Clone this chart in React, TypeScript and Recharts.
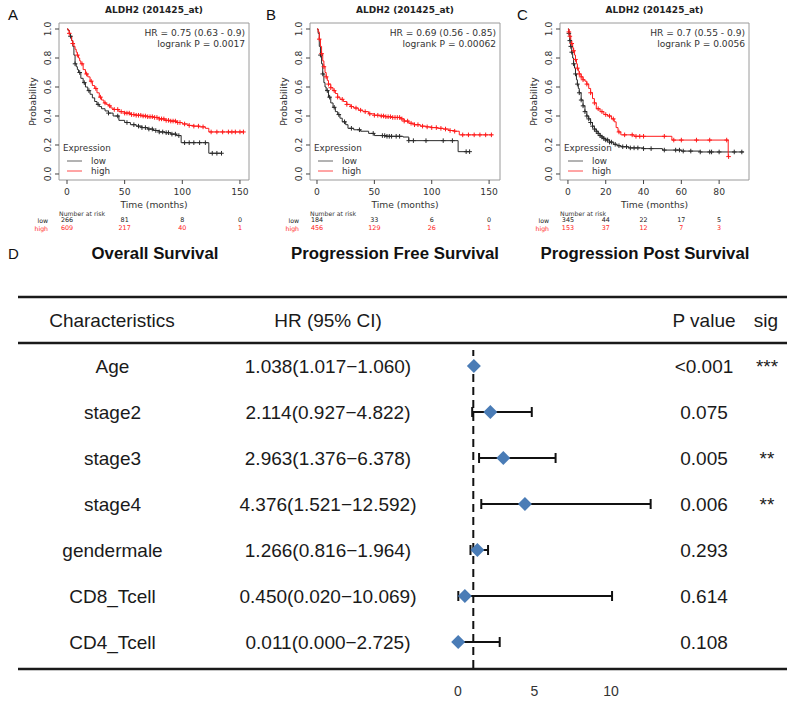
import React from 'react';
import {
  ComposedChart, ScatterChart, Line, Scatter, XAxis, YAxis,
  ReferenceArea, ReferenceLine, ErrorBar,
} from 'recharts';

// ---------- Kaplan-Meier data ----------
// A: Overall Survival
const osHighT = [0,1,2,3,4,5,6,7,8,9,10,11,12,14,16,18,20,22,24,26,28,30,32,34,36,38,40,45,50,55,60,65,70,75,80,85,90,95,100,105,110,115,120,123,153];
const osHighS = [1,0.99,0.97,0.95,0.92,0.9,0.88,0.86,0.84,0.82,0.8,0.78,0.76,0.72,0.69,0.67,0.64,0.61,0.59,0.56,0.53,0.51,0.49,0.48,0.47,0.455,0.445,0.43,0.42,0.41,0.405,0.4,0.395,0.39,0.38,0.37,0.365,0.355,0.345,0.335,0.33,0.325,0.315,0.29,0.29];
const osLowT = [0,1,2,3,4,5,6,7,8,9,10,12,14,16,18,20,22,24,26,28,30,33,36,40,45,50,55,60,65,70,75,80,85,90,95,99,123,134];
const osLowS = [1,0.99,0.97,0.95,0.92,0.88,0.82,0.76,0.74,0.72,0.7,0.66,0.63,0.6,0.575,0.55,0.525,0.5,0.48,0.465,0.45,0.435,0.42,0.4,0.37,0.355,0.34,0.33,0.32,0.31,0.3,0.29,0.285,0.275,0.265,0.216,0.143,0.143];
const osHighCens = [2,5,9,13,17,21,25,29,33,37,41,44,47,50,52,54,56,58,60,62,64,66,68,70,72,74,76,78,80,82,84,86,88,90,92,94,96,98,102,106,110,114,118,125,130,135,140,143,146,150,153];
const osLowCens = [3,7,11,15,19,27,36,44,52,58,62,65,68,71,74,77,80,83,86,88,91,94,97,102,106,110,115,120,126,130,134];
const osRiskLow = ['266','81','8','0'];
const osRiskHigh = ['609','217','40','1'];

// B: Progression Free Survival
const pfsHighT = [0,1,2,3,4,5,6,7,8,9,10,12,14,16,18,20,23,26,29,32,36,40,45,50,55,60,65,70,73,76,80,85,90,95,100,105,110,115,120,124,153];
const pfsHighS = [1,0.98,0.93,0.88,0.83,0.78,0.74,0.7,0.67,0.645,0.62,0.595,0.575,0.555,0.53,0.515,0.5,0.48,0.465,0.455,0.44,0.43,0.415,0.405,0.4,0.395,0.39,0.39,0.38,0.365,0.35,0.34,0.33,0.325,0.32,0.315,0.31,0.3,0.295,0.27,0.27];
const pfsLowT = [0,1,2,3,4,5,6,7,8,10,12,14,16,18,20,22,25,27,32,38,45,50,60,75,80,123,133];
const pfsLowS = [1,0.97,0.88,0.82,0.76,0.69,0.63,0.6,0.575,0.53,0.49,0.46,0.43,0.41,0.385,0.36,0.34,0.315,0.305,0.295,0.28,0.265,0.26,0.255,0.23,0.154,0.154];
const pfsHighCens = [2,4,6,8,10,12,15,18,22,26,30,34,38,42,46,50,53,56,58,60,62,64,66,68,70,72,74,76,79,82,85,88,92,96,100,104,108,112,116,120,127,132,137,142,147,152];
const pfsLowCens = [3,5,9,11,15,19,24,30,37,49,57,59,61,63,65,69,72,80,84,95,110,118,130,133];
const pfsRiskLow = ['184','33','6','0'];
const pfsRiskHigh = ['456','129','26','1'];

// C: Progression Post Survival
const ppsHighT = [0,0.5,1,1.5,2,2.5,3,3.5,4,4.5,5,5.5,6,7,8,9,10,11,12,13,14,15,17,19,21,23,24.5,25.5,26.5,28,35,55,84.8];
const ppsHighS = [1,0.98,0.95,0.92,0.9,0.87,0.85,0.82,0.79,0.76,0.73,0.71,0.69,0.67,0.65,0.64,0.62,0.59,0.56,0.52,0.49,0.45,0.43,0.41,0.4,0.38,0.36,0.32,0.29,0.27,0.26,0.234,0.12];
const ppsLowT = [0,0.5,1,1.5,2,2.5,3,3.5,4,4.5,5,5.5,6,7,8,9,10,11,12,13,14,15,16,17,18,19,20,22,24,26,28,32,40,50,60,70,93];
const ppsLowS = [1,0.97,0.92,0.88,0.84,0.8,0.76,0.73,0.69,0.65,0.62,0.59,0.56,0.51,0.47,0.43,0.4,0.38,0.355,0.33,0.31,0.295,0.28,0.265,0.255,0.245,0.235,0.22,0.205,0.195,0.188,0.18,0.175,0.165,0.158,0.152,0.152];
const ppsHighCens = [0.5,1,2,3,4,5,6,7,8,10,12,14,16,18,20,22,24,27,30,34,36,38,40,51,56,60,68,75,84,85];
const ppsLowCens = [0.5,1,1.5,2,3,4,5,6,7,8,9,10,11,12,13,14,15,16,17,18,19,20,21,22,23,25,27,29,31,33,35,37,40,44,51,57,59,61,65,70,75,76,80,88,92];
const ppsRiskLow = ['345','44','22','17','5'];
const ppsRiskHigh = ['153','37','12','7','3'];

const kmTitle = 'ALDH2 (201425_at)';
const hrTexts = ['HR = 0.75 (0.63 - 0.9)', 'HR = 0.69 (0.56 - 0.85)', 'HR = 0.7 (0.55 - 0.9)'];
const pTexts = ['logrank P = 0.0017', 'logrank P = 0.00062', 'logrank P = 0.0056'];
const subTitles = ['Overall Survival', 'Progression Free Survival', 'Progression Post Survival'];
const panelLetters = ['A', 'B', 'C'];
const kmYTicks = [0, 0.2, 0.4, 0.6, 0.8, 1.0];

// ---------- Forest plot data ----------
const fNames = ['Age', 'stage2', 'stage3', 'stage4', 'gendermale', 'CD8_Tcell', 'CD4_Tcell'];
const fHR = [1.038, 2.114, 2.963, 4.376, 1.266, 0.450, 0.011];
const fLo = [1.017, 0.927, 1.376, 1.521, 0.816, 0.020, 0.000];
const fHi = [1.060, 4.822, 6.378, 12.592, 1.964, 10.069, 2.725];
const fP = ['<0.001', '0.075', '0.005', '0.006', '0.293', '0.614', '0.108'];
const fSig = ['***', '', '**', '**', '', '', ''];
const fTicks = [0, 5, 10];

const fmt3 = (v: number) => v.toFixed(3);

const survAt = (ts: number[], ss: number[], t: number) => {
  let s = ss[0];
  for (let i = 0; i < ts.length; i++) if (ts[i] <= t) s = ss[i];
  return s;
};

const KM_FONT = 'DejaVu Sans';
const RED = '#ff1a1a';
const BLK = '#2a2a2a';
const Y_DOM: [number, number] = [-0.0414, 1.0414];

type KMProps = {
  left: number; width: number; boxLeft: number; boxRight: number;
  xDomain: [number, number]; xTicks: number[];
  hiT: number[]; hiS: number[]; loT: number[]; loS: number[];
  hiC: number[]; loC: number[]; riskLow: string[]; riskHigh: string[];
};

const cross = (color: string) => (p: any) => (
  <path d={`M${p.cx - 2.3},${p.cy}h4.6M${p.cx},${p.cy - 2.3}v4.6`} stroke={color} strokeWidth={1} fill="none" />
);

function KMPanel(props: KMProps) {
  const { left, width, boxLeft, boxRight, xDomain, xTicks, hiT, hiS, loT, loS, hiC, loC, riskLow, riskHigh } = props;
  const yw = boxLeft - left;
  const hiData = hiT.map((t, i) => ({ t, s: hiS[i] }));
  const loData = loT.map((t, i) => ({ t, s: loS[i] }));
  const hiCens = hiC.map((t) => ({ t, s: survAt(hiT, hiS, t) }));
  const loCens = loC.map((t) => ({ t, s: survAt(loT, loS, t) }));

  const XTick = (p: any) => {
    const { x, payload } = p;
    const i = xTicks.indexOf(payload.value);
    return (
      <g fontFamily={KM_FONT}>
        <text x={x} y={191} textAnchor="middle" dominantBaseline="central" fontSize={9.2} fill="#333">{payload.value}</text>
        <text x={x} y={220} textAnchor="middle" dominantBaseline="central" fontSize={6.4} fill="#222">{riskLow[i]}</text>
        <text x={x} y={228} textAnchor="middle" dominantBaseline="central" fontSize={6.4} fill={RED}>{riskHigh[i]}</text>
      </g>
    );
  };
  const YTick = (p: any) => {
    const { y, payload } = p;
    const x = yw - 11;
    return (
      <text x={x} y={y} transform={`rotate(-90 ${x} ${y})`} textAnchor="middle" dominantBaseline="central"
        fontSize={9.2} fill="#333" fontFamily={KM_FONT}>{Number(payload.value).toFixed(1)}</text>
    );
  };

  return (
    <div style={{ position: 'absolute', left, top: 0 }}>
      <ComposedChart width={width} height={235} margin={{ top: 23, right: left + width - boxRight, bottom: 0, left: 0 }}>
        <XAxis type="number" dataKey="t" domain={xDomain} allowDataOverflow ticks={xTicks} interval={0}
          tick={XTick} tickSize={4} axisLine={false} tickLine={{ stroke: '#444' }} height={55} />
        <YAxis type="number" dataKey="s" domain={Y_DOM} allowDataOverflow ticks={kmYTicks} interval={0}
          tick={YTick} tickSize={4} axisLine={false} tickLine={{ stroke: '#444' }} width={yw} />
        <ReferenceArea x1={xDomain[0]} x2={xDomain[1]} y1={Y_DOM[0]} y2={Y_DOM[1]} fill="#fff" fillOpacity={0}
          stroke="#9a9a9a" strokeWidth={1} ifOverflow="visible" />
        <Line data={loData} dataKey="s" type="stepAfter" stroke={BLK} strokeWidth={1} dot={false} isAnimationActive={false} />
        <Scatter data={loCens} dataKey="s" shape={cross(BLK)} isAnimationActive={false} />
        <Line data={hiData} dataKey="s" type="stepAfter" stroke={RED} strokeWidth={1} dot={false} isAnimationActive={false} />
        <Scatter data={hiCens} dataKey="s" shape={cross(RED)} isAnimationActive={false} />
      </ComposedChart>
    </div>
  );
}

const panelGeom = [
  { left: 0, width: 255, boxLeft: 59, boxRight: 249, xDomain: [-6.94, 157.85] as [number, number], xTicks: [0, 50, 100, 150], letterX: 8 },
  { left: 255, width: 255, boxLeft: 310, boxRight: 500, xDomain: [-6.1, 159.5] as [number, number], xTicks: [0, 50, 100, 150], letterX: 266 },
  { left: 510, width: 281, boxLeft: 560, boxRight: 749, xDomain: [-4.2, 95.8] as [number, number], xTicks: [0, 20, 40, 60, 80], letterX: 517 },
];
const subCenters = [155, 395, 645];

const Diamond = (p: any) => {
  const { cx, cy } = p;
  const r = 7;
  return <polygon points={`${cx},${cy - r} ${cx + r},${cy} ${cx},${cy + r} ${cx - r},${cy}`} fill="#4a7cb6" />;
};

const TABLE_FONT = '"Liberation Sans", Arial, sans-serif';

export default function App() {
  const forestData = fNames.map((n, i) => ({
    name: n, row: i, hr: fHR[i], ci: [fHR[i] - fLo[i], fHi[i] - fHR[i]],
  }));
  const FTick = (p: any) => (
    <text x={p.x} y={341} textAnchor="middle" dominantBaseline="central" fontSize={14}
      fill="#333" fontFamily={TABLE_FONT}>{p.payload.value}</text>
  );
  const kmData = [
    { hiT: osHighT, hiS: osHighS, loT: osLowT, loS: osLowS, hiC: osHighCens, loC: osLowCens, riskLow: osRiskLow, riskHigh: osRiskHigh },
    { hiT: pfsHighT, hiS: pfsHighS, loT: pfsLowT, loS: pfsLowS, hiC: pfsHighCens, loC: pfsLowCens, riskLow: pfsRiskLow, riskHigh: pfsRiskHigh },
    { hiT: ppsHighT, hiS: ppsHighS, loT: ppsLowT, loS: ppsLowS, hiC: ppsHighCens, loC: ppsLowCens, riskLow: ppsRiskLow, riskHigh: ppsRiskHigh },
  ];
  const rowY = (i: number) => 366 + 46 * i;

  return (
    <div style={{ position: 'absolute', left: 0, top: 0, width: 791, height: 702, background: '#fff', overflow: 'hidden' }}>
      {panelGeom.map((g, k) => (
        <KMPanel key={k} left={g.left} width={g.width} boxLeft={g.boxLeft} boxRight={g.boxRight}
          xDomain={g.xDomain} xTicks={g.xTicks} {...kmData[k]} />
      ))}

      <div style={{ position: 'absolute', left: 400, top: 350 }}>
        <ScatterChart width={280} height={352} margin={{ top: 0, right: 0, bottom: 0, left: 0 }}>
          <XAxis type="number" dataKey="hr" domain={[-3.791, 14.51]} allowDataOverflow ticks={fTicks} interval={0}
            tick={FTick} axisLine={false} tickLine={false} height={34} />
          <YAxis type="number" dataKey="row" domain={[-0.348, 6.565]} allowDataOverflow reversed hide />
          <ReferenceLine x={1} stroke="#111" strokeWidth={2} strokeDasharray="8 5" />
          <Scatter data={forestData} shape={Diamond} isAnimationActive={false}>
            <ErrorBar dataKey="ci" direction="x" width={5} stroke="#111" strokeWidth={2} />
          </Scatter>
        </ScatterChart>
      </div>

      <svg width={791} height={702} style={{ position: 'absolute', left: 0, top: 0, pointerEvents: 'none' }}>
        {panelGeom.map((g, k) => {
          const cx = (g.boxLeft + g.boxRight) / 2;
          return (
            <g key={k} fontFamily={KM_FONT} fill="#333">
              <text x={g.letterX} y={14} dominantBaseline="central" fontSize={15} fill="#111" fontFamily={TABLE_FONT}>{panelLetters[k]}</text>
              <text x={cx} y={10} textAnchor="middle" dominantBaseline="central" fontSize={9} fontWeight="bold" fill="#222">{kmTitle}</text>
              <text x={g.boxRight - 4} y={33} textAnchor="end" dominantBaseline="central" fontSize={9.1}>{hrTexts[k]}</text>
              <text x={g.boxRight - 4} y={43.5} textAnchor="end" dominantBaseline="central" fontSize={9.1}>{pTexts[k]}</text>
              <text x={g.boxLeft - 27} y={101.5} transform={`rotate(-90 ${g.boxLeft - 27} 101.5)`} textAnchor="middle" dominantBaseline="central" fontSize={9.2}>Probability</text>
              <text x={cx} y={204} textAnchor="middle" dominantBaseline="central" fontSize={9.2}>Time (months)</text>
              <text x={g.boxLeft + 4} y={148} dominantBaseline="central" fontSize={8.8}>Expression</text>
              <line x1={g.boxLeft + 8} x2={g.boxLeft + 23} y1={161} y2={161} stroke="#666" strokeWidth={1} />
              <line x1={g.boxLeft + 8} x2={g.boxLeft + 23} y1={171} y2={171} stroke="#ff4a4a" strokeWidth={1} />
              <text x={g.boxLeft + 32} y={161} dominantBaseline="central" fontSize={8.8}>low</text>
              <text x={g.boxLeft + 32} y={171} dominantBaseline="central" fontSize={8.8}>high</text>
              <text x={g.boxLeft} y={213} dominantBaseline="central" fontSize={6.2} fill="#333">Number at risk</text>
              <text x={g.boxLeft - 11} y={220} textAnchor="end" dominantBaseline="central" fontSize={6.2} fill="#222">low</text>
              <text x={g.boxLeft - 11} y={228} textAnchor="end" dominantBaseline="central" fontSize={6.2} fill={RED}>high</text>
              <text x={subCenters[k]} y={253} textAnchor="middle" dominantBaseline="central" fontSize={16.8} fontWeight="bold" fill="#111" fontFamily={TABLE_FONT}>{subTitles[k]}</text>
            </g>
          );
        })}

        <g fontFamily={TABLE_FONT} fill="#1a1a1a">
          <text x={8} y={253} dominantBaseline="central" fontSize={15} fill="#111">D</text>
          <line x1={18} x2={787} y1={297} y2={297} stroke="#1a1a1a" strokeWidth={2.6} />
          <line x1={18} x2={787} y1={343} y2={343} stroke="#1a1a1a" strokeWidth={2.6} />
          <line x1={18} x2={787} y1={669} y2={669} stroke="#1a1a1a" strokeWidth={2.6} />
          <text x={112} y={320} textAnchor="middle" dominantBaseline="central" fontSize={19}>Characteristics</text>
          <text x={328} y={320} textAnchor="middle" dominantBaseline="central" fontSize={19}>HR (95% CI)</text>
          <text x={704} y={320} textAnchor="middle" dominantBaseline="central" fontSize={19}>P value</text>
          <text x={766} y={320} textAnchor="middle" dominantBaseline="central" fontSize={19}>sig</text>
          {fNames.map((n, i) => (
            <g key={n}>
              <text x={112.5} y={rowY(i)} textAnchor="middle" dominantBaseline="central" fontSize={19}>{n}</text>
              <text x={328} y={rowY(i)} textAnchor="middle" dominantBaseline="central" fontSize={19}>
                {`${fmt3(fHR[i])}(${fmt3(fLo[i])}\u2212${fmt3(fHi[i])})`}
              </text>
              <text x={704} y={rowY(i)} textAnchor="middle" dominantBaseline="central" fontSize={19}>{fP[i]}</text>
              <text x={767} y={rowY(i)} textAnchor="middle" dominantBaseline="central" fontSize={19}>{fSig[i]}</text>
            </g>
          ))}
        </g>
      </svg>
    </div>
  );
}
